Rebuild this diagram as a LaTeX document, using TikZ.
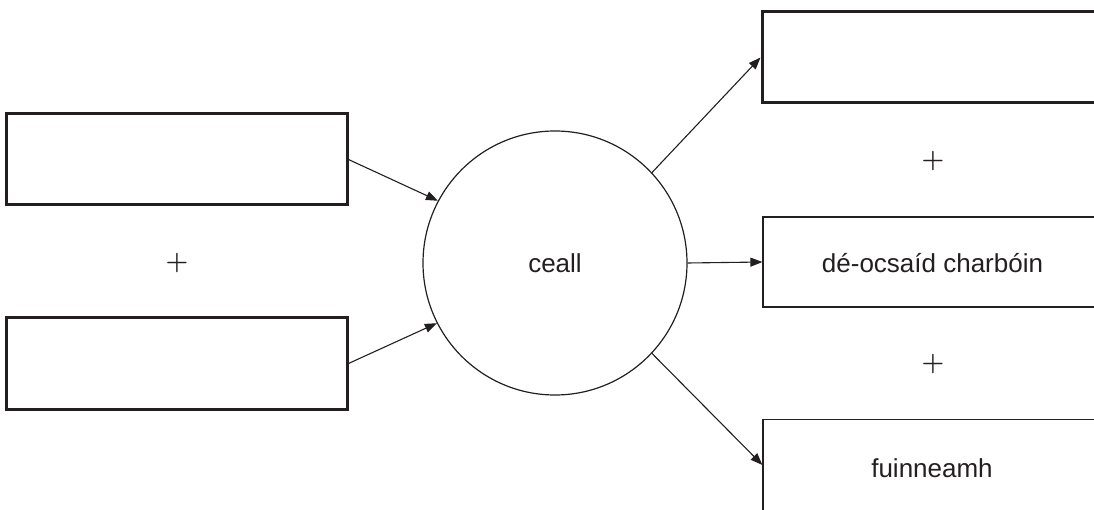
\documentclass[tikz,border=0pt]{standalone}
\usepackage{fontspec}
\setmainfont{Liberation Sans}
\newfontfamily\plusfont{Latin Modern Roman}
\usetikzlibrary{arrows.meta}
\definecolor{ink}{HTML}{231F20}
\begin{document}
\begin{tikzpicture}[x=1pt,y=-1pt,
  thickbox/.style={draw=ink,line width=3pt,minimum width=341pt,minimum height=91pt,inner sep=0pt},
  thinbox/.style={draw=ink,line width=1.2pt,minimum width=350pt,minimum height=90pt,inner sep=0pt},
  lbl/.style={text=ink,font=\fontsize{26pt}{30pt}\selectfont},
  plus/.style={text=ink,font=\plusfont\bfseries\fontsize{26pt}{30pt}\selectfont,inner sep=0pt},
  conn/.style={draw=ink,line width=1.1pt,-{Triangle[length=12pt,width=9pt]}}]
\useasboundingbox (0,0) rectangle (1094,510);
\node[thickbox] (lt) at (176.5,159.5) {};
\node[thickbox] (lb) at (176.5,363.5) {};
\node[plus] (p1) at (177,263) {+};
\node[circle,draw=ink,line width=1.2pt,minimum size=264pt,inner sep=0pt,lbl] (cell) at (555,263) {ceall};
\node[thickbox,minimum width=350pt] (rt) at (937,57.5) {};
\node[plus] (p2) at (933,161) {+};
\node[thinbox] (rm) at (938,262) {};
\node[lbl] (rmt) at (932.5,263) {dé-ocsaíd charbóin};
\node[plus] (p3) at (933,364) {+};
\node[thinbox,minimum height=91pt] (rb) at (938,465) {};
\node[lbl] (rbt) at (932,468) {fuinneamh};
\draw[conn] (lt.east) -- (cell.152);
\draw[conn] (lb.east) -- (cell.207);
\draw[conn] (cell.43.5) -- (rt.west);
\draw[conn] (cell.east) -- (rm.west);
\draw[conn] (cell.-43.5) -- (rb.west);
\end{tikzpicture}
\end{document}
